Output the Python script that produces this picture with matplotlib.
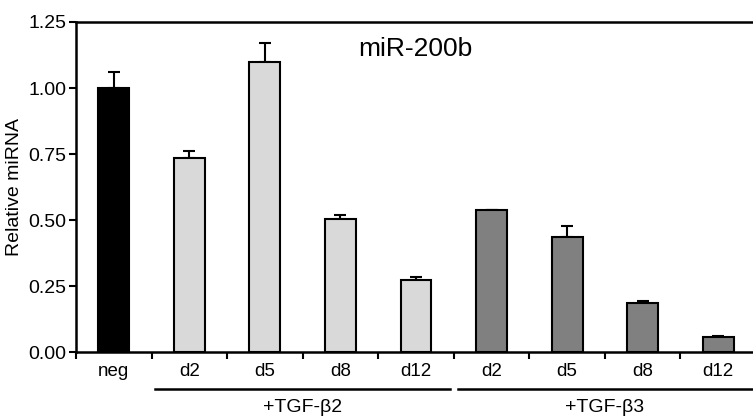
import matplotlib
matplotlib.use('Agg')
import matplotlib.pyplot as plt
import matplotlib.transforms as mtransforms
import numpy as np

plt.rcParams['font.family'] = ['Liberation Sans', 'DejaVu Sans']

categories = ['neg', 'd2', 'd5', 'd8', 'd12', 'd2', 'd5', 'd8', 'd12']
values = [1.00, 0.737, 1.100, 0.506, 0.275, 0.537, 0.438, 0.187, 0.057]
errors = [0.062, 0.024, 0.070, 0.012, 0.010, 0.0, 0.041, 0.009, 0.005]
colors = ['#000000'] + ['#d9d9d9'] * 4 + ['#808080'] * 4
groups = [('+TGF-\u03b22', 1, 4), ('+TGF-\u03b23', 5, 8)]
yticks = [0.00, 0.25, 0.50, 0.75, 1.00, 1.25]

fig = plt.figure(figsize=(7.53, 4.19), dpi=100)
ax = fig.add_axes([76 / 753, 66.7 / 419, 680 / 753, 330.3 / 419])

x = np.arange(len(categories))
ax.errorbar(x, values, yerr=[np.zeros(len(errors)), errors], fmt='none',
            ecolor='black', elinewidth=1.5, capsize=4.3, capthick=1.5, zorder=1)
ax.bar(x, values, width=0.41, color=colors, edgecolor='black', linewidth=1.5, zorder=2)

ax.set_xlim(-0.5, len(categories) - 0.5)
ax.set_ylim(0, 1.25)
ax.set_yticks(yticks)
ax.set_yticklabels(['%.2f' % t for t in yticks])
ax.set_xticks(np.arange(len(categories) + 1) - 0.5)
ax.set_xticklabels([])
ax.set_xticks(x, minor=True)
ax.set_xticklabels(categories, minor=True)
ax.tick_params(axis='x', which='minor', length=0, pad=8, labelsize=13.5)
ax.tick_params(axis='x', which='major', length=5, width=1.5, direction='out')
ax.tick_params(axis='y', length=5, width=1.5, direction='out', labelsize=14, pad=2)
for s in ax.spines.values():
    s.set_linewidth(1.8)

ax.set_ylabel('Relative miRNA', fontsize=14, labelpad=4)
fig.text(415 / 753, 1 - 49 / 419, 'miR-200b', fontsize=19, ha='center', va='center')

trans = mtransforms.blended_transform_factory(ax.transData, ax.transAxes)
for label, start, end in groups:
    ax.plot([start - 0.45, end + 0.45], [-0.112, -0.112], color='black',
            linewidth=1.8, transform=trans, clip_on=False)
    ax.text((start + end) / 2, -0.166, label, fontsize=14, ha='center',
            va='center', transform=trans)

fig.savefig('out.png', dpi=100)
